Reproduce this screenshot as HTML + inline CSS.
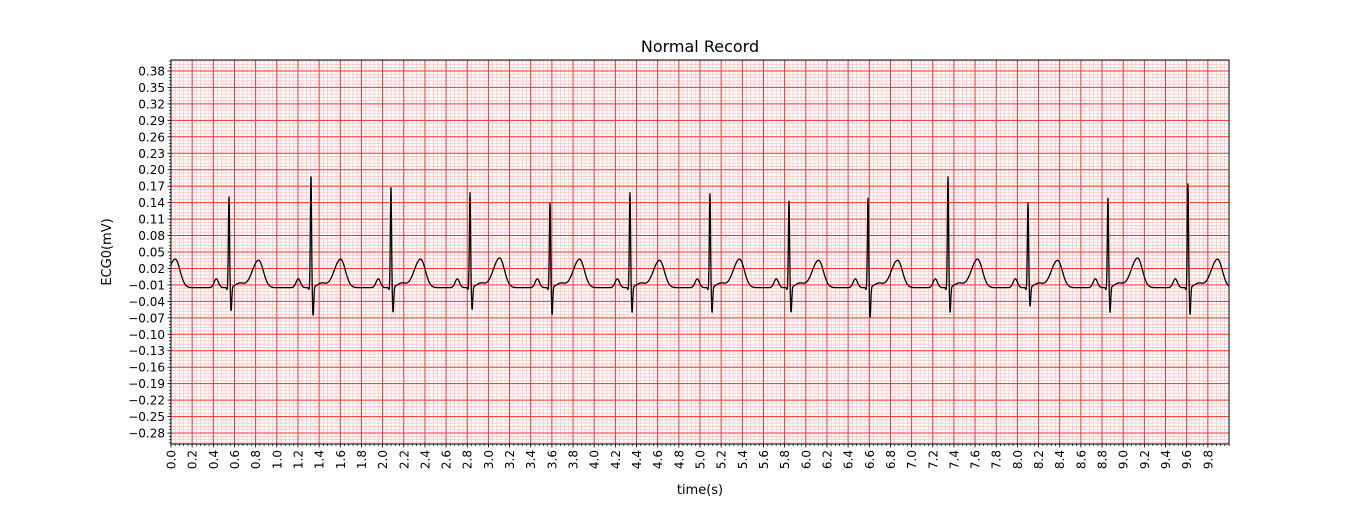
<!DOCTYPE html>
<html><head><meta charset="utf-8"><style>
html,body{margin:0;padding:0;background:#fff;}
svg text{font-family:"DejaVu Sans","Liberation Sans",sans-serif;fill:#000;}
</style></head><body>
<svg id="chart" width="1366" height="500" xmlns="http://www.w3.org/2000/svg">
<rect width="1366" height="500" fill="#fff"/>
<text x="700" y="52" font-size="16" text-anchor="middle">Normal Record</text>
<g id="grid"></g>
<g id="series"></g>
<g id="axes"></g>
<text transform="translate(111,252) rotate(-90)" font-size="13" text-anchor="middle">ECG0(mV)</text>
<text x="700" y="494" font-size="13" text-anchor="middle">time(s)</text>
</svg>
<script>
// data
const rTimes = [-0.24, 0.548, 1.323, 2.079, 2.826, 3.582, 4.338, 5.094, 5.841, 6.588, 7.344, 8.100, 8.856, 9.612];
const rAmps  = [0.16, 0.150, 0.190, 0.170, 0.158, 0.139, 0.158, 0.156, 0.145, 0.148, 0.187, 0.139, 0.148, 0.174];
const sAmps  = [-0.06, -0.058, -0.067, -0.061, -0.056, -0.065, -0.061, -0.061, -0.061, -0.070, -0.061, -0.050, -0.061, -0.065];
const tAmps  = [0.052, 0.050, 0.052, 0.052, 0.054, 0.052, 0.050, 0.052, 0.050, 0.050, 0.052, 0.050, 0.054, 0.052];
const xTickLabels = ["0.0","0.2","0.4","0.6","0.8","1.0","1.2","1.4","1.6","1.8","2.0","2.2","2.4","2.6","2.8","3.0","3.2","3.4","3.6","3.8","4.0","4.2","4.4","4.6","4.8","5.0","5.2","5.4","5.6","5.8","6.0","6.2","6.4","6.6","6.8","7.0","7.2","7.4","7.6","7.8","8.0","8.2","8.4","8.6","8.8","9.0","9.2","9.4","9.6","9.8"];
const yTickLabels = ["-0.28","-0.25","-0.22","-0.19","-0.16","-0.13","-0.10","-0.07","-0.04","-0.01","0.02","0.05","0.08","0.11","0.14","0.17","0.20","0.23","0.26","0.29","0.32","0.35","0.38"];
const baseline = -0.015;

const L=171, R=1229, T=60, B=444, xMin=0, xMax=10, yMin=-0.3, yMax=0.4;
const X = v => L + (v - xMin) / (xMax - xMin) * (R - L);
const Y = v => B - (v - yMin) / (yMax - yMin) * (B - T);
const NS = "http://www.w3.org/2000/svg";
function mk(tag, attrs, parent){const e=document.createElementNS(NS,tag);for(const k in attrs)e.setAttribute(k,attrs[k]);parent.appendChild(e);return e;}
const grid=document.getElementById('grid'), axes=document.getElementById('axes'), series=document.getElementById('series');

// minor grid
for(let t=0;t<=10.0001;t+=0.04){const l=mk('line',{x1:X(t),x2:X(t),y1:T,y2:B,stroke:'#ffc4c4','stroke-width':0.8},grid);

}
for(let v=-0.31;v<=0.4;v+=0.006){if(v<yMin-1e-9)continue;const l=mk('line',{x1:L,x2:R,y1:Y(v),y2:Y(v),stroke:'#ffc4c4','stroke-width':0.8},grid);

}
// major grid
xTickLabels.forEach(s=>{const t=parseFloat(s);const l=mk('line',{x1:X(t),x2:X(t),y1:T,y2:B,stroke:'#ff3030','stroke-width':1},grid);

});
yTickLabels.forEach(s=>{const v=parseFloat(s);const l=mk('line',{x1:L,x2:R,y1:Y(v),y2:Y(v),stroke:'#ff3030','stroke-width':1},grid);

});

// signal
const g=(t,m,s)=>Math.exp(-((t-m)*(t-m))/(2*s*s));
function ecg(t){let v=baseline;for(let i=0;i<rTimes.length;i++){const d=t-rTimes[i];if(d<-0.4||d>0.6)continue;
 v+=0.016*g(d,-0.12,0.021);
 v+=-0.004*g(d,-0.018,0.005);
 v+=(rAmps[i]-baseline)*g(d,0,0.0055);
 v+=(sAmps[i]-baseline)*g(d,0.02,0.006);
 v+=0.008*g(d,0.1,0.04);
 v+=(tAmps[i]-0.008*g(0.28,0.1,0.04))*g(d,0.28,d<0.28?0.06:0.045);}
 return v;}
let pts=[];for(let t=0;t<=10.0001;t+=0.002){pts.push(X(t).toFixed(2)+','+Y(ecg(t)).toFixed(2));}
const pl=mk('polyline',{points:pts.join(' '),fill:'none',stroke:'#000','stroke-width':1.3,'stroke-linejoin':'round'},series);



// frame
const fr=mk('rect',{x:L,y:T,width:R-L,height:B-T,fill:'none',stroke:'#000','stroke-width':1},axes);


// x ticks
for(let t=0;t<=10.0001;t+=0.04){mk('line',{x1:X(t),x2:X(t),y1:B,y2:B+2,stroke:'#000','stroke-width':0.7},axes);}
xTickLabels.forEach(s=>{const t=parseFloat(s);mk('line',{x1:X(t),x2:X(t),y1:B,y2:B+3.5,stroke:'#000','stroke-width':0.8},axes);
 const tx=mk('text',{transform:`translate(${X(t)+4.5},${B+6}) rotate(-90)`,'font-size':12,'text-anchor':'end'},axes);tx.textContent=s;
 
 });
// y ticks
for(let v=-0.298;v<=0.4;v+=0.006){mk('line',{x1:L-2,x2:L,y1:Y(v),y2:Y(v),stroke:'#000','stroke-width':0.7},axes);}
yTickLabels.forEach(s=>{const v=parseFloat(s);mk('line',{x1:L-3.5,x2:L,y1:Y(v),y2:Y(v),stroke:'#000','stroke-width':0.8},axes);
 const tx=mk('text',{x:L-6,y:Y(v)+4.5,'font-size':12,'text-anchor':'end'},axes);tx.textContent=s.replace('-','\u2212');
 
 });
</script>
</body></html>
